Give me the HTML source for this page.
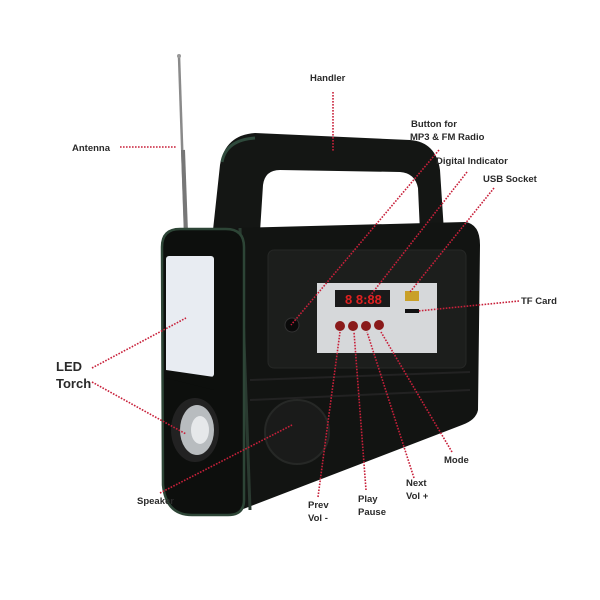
<!DOCTYPE html>
<html><head><meta charset="utf-8"><style>
html,body{margin:0;padding:0;background:#fff;}
svg{display:block;}
text{font-family:"Liberation Sans",sans-serif;font-weight:bold;fill:#2a2a2a;font-size:9.5px;}
.d{stroke:#c8203a;stroke-width:1.6;stroke-dasharray:1.6 1.4;fill:none;}
</style></head><body>
<svg width="600" height="600" viewBox="0 0 600 600" xmlns="http://www.w3.org/2000/svg">
<!-- antenna -->
<line x1="179" y1="56" x2="185" y2="232" stroke="#8a8a8a" stroke-width="2.5"/>
<line x1="183" y1="150" x2="186" y2="232" stroke="#777" stroke-width="4"/>
<circle cx="179" cy="56" r="2" fill="#999"/>
<!-- handle -->
<path d="M213,230 L220,165 Q225,135 255,133 L410,140 Q436,142 440,170 L444,232 L420,232 L418,188 Q415,173 400,172 L280,170 Q265,170 263,185 L260,232 Z" fill="#141614"/>
<path d="M222,162 Q226,140 255,138" stroke="#2f4a3c" stroke-width="3" fill="none"/>
<!-- body -->
<path d="M235,228 L465,222 Q480,224 480,245 L478,410 Q476,420 462,425 L225,516 L215,516 Z" fill="#121412"/>
<path d="M240,228 L250,510" stroke="#2a3a30" stroke-width="3"/>
<!-- torch module -->
<path d="M180,229 L226,229 Q244,229 244,247 L244,500 Q244,515 228,515 L192,515 Q166,515 163,485 L162,247 Q162,229 180,229 Z" fill="#0d0f0d" stroke="#2d4536" stroke-width="2.5"/>
<rect x="166" y="256" width="48" height="121" rx="3" fill="#e8ecf2"/>
<path d="M166,370 L214,377 L214,390 L166,378 Z" fill="#0d0f0d"/>
<ellipse cx="195" cy="430" rx="24" ry="32" fill="#222"/>
<ellipse cx="197" cy="430" rx="17" ry="25" fill="#b8bcbf"/>
<ellipse cx="200" cy="430" rx="9" ry="14" fill="#e6e8ea"/>
<!-- grille panel -->
<rect x="268" y="250" width="198" height="118" rx="6" fill="#1c1e1c" stroke="#262826"/>
<line x1="250" y1="380" x2="470" y2="372" stroke="#222" stroke-width="2"/>
<line x1="250" y1="400" x2="470" y2="390" stroke="#222" stroke-width="2"/>
<circle cx="292" cy="325" r="7" fill="#0a0a0a" stroke="#333"/>
<!-- silver panel -->
<rect x="317" y="283" width="120" height="70" fill="#d6d8da"/>
<rect x="335" y="290" width="55" height="17" fill="#1a1a1a"/>
<text x="345" y="304" style="fill:#e02020;font-size:13px;">8 8:88</text>
<rect x="405" y="291" width="14" height="10" fill="#c9a028"/>
<rect x="405" y="309" width="14" height="4" fill="#111"/>
<circle cx="340" cy="326" r="5" fill="#8a1a1a"/>
<circle cx="353" cy="326" r="5" fill="#8a1a1a"/>
<circle cx="366" cy="326" r="5" fill="#8a1a1a"/>
<circle cx="379" cy="325" r="5" fill="#8a1a1a"/>
<!-- speaker -->
<circle cx="297" cy="432" r="32" fill="#1a1b1a" stroke="#262826" stroke-width="2"/>
<!-- connectors -->
<path class="d" d="M333,92 L333,152"/>
<path class="d" d="M120,147 L176,147"/>
<path class="d" d="M439,150 L291,325"/>
<path class="d" d="M467,172 L370,296"/>
<path class="d" d="M494,188 L410,292"/>
<path class="d" d="M519,301 L418,311"/>
<path class="d" d="M92,368 L186,318"/>
<path class="d" d="M92,382 L186,434"/>
<path class="d" d="M160,493 L292,425"/>
<path class="d" d="M318,497 L340,332"/>
<path class="d" d="M366,490 L354,332"/>
<path class="d" d="M414,478 L367,332"/>
<path class="d" d="M452,452 L381,332"/>
<!-- labels -->
<text x="310" y="81">Handler</text>
<text x="72" y="151">Antenna</text>
<text x="411" y="127">Button for</text>
<text x="410" y="140">MP3 &amp; FM Radio</text>
<text x="436" y="164">Digital Indicator</text>
<text x="483" y="182">USB Socket</text>
<text x="521" y="304">TF Card</text>
<text x="56" y="371" style="font-size:13px;">LED</text>
<text x="56" y="388" style="font-size:13px;">Torch</text>
<text x="137" y="504">Speaker</text>
<text x="308" y="508">Prev</text>
<text x="308" y="521">Vol -</text>
<text x="358" y="502">Play</text>
<text x="358" y="515">Pause</text>
<text x="406" y="486">Next</text>
<text x="406" y="499">Vol +</text>
<text x="444" y="463">Mode</text>
</svg>
</body></html>
